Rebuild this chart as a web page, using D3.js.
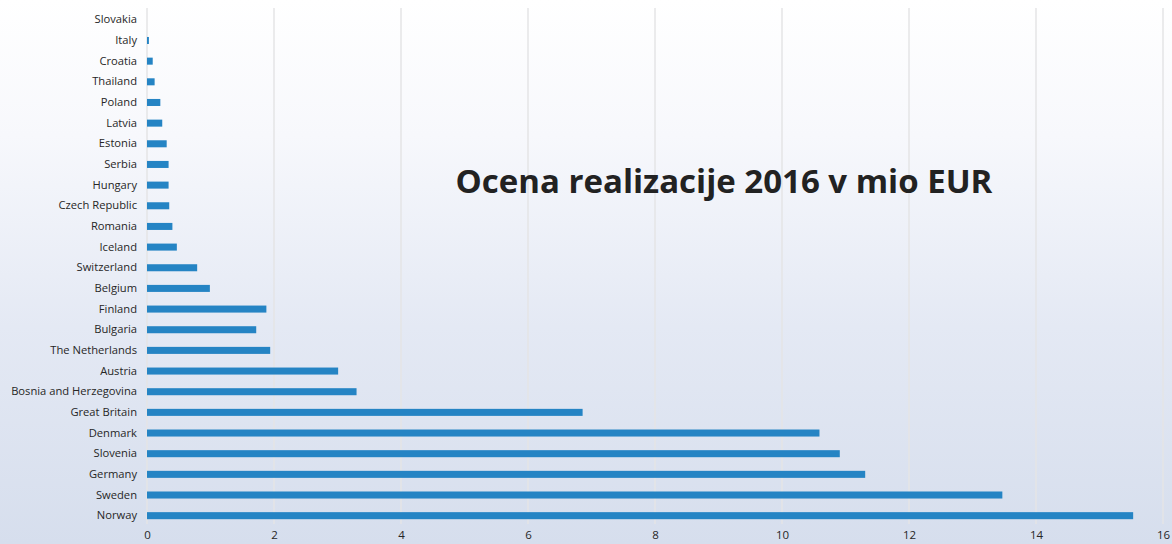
<!DOCTYPE html>
<html>
<head>
<meta charset="utf-8">
<script src="https://cdn.jsdelivr.net/npm/d3@7"></script>
<style>
  html, body { margin: 0; padding: 0; }
  body { width: 1172px; height: 544px; overflow: hidden; }
  text { font-family: "Open Sans", "Noto Sans", sans-serif; }
</style>
</head>
<body>
<script>
// kategorije (od zgoraj navzdol) in vrednosti v mio EUR
const countries = ["Slovakia", "Italy", "Croatia", "Thailand", "Poland", "Latvia", "Estonia", "Serbia",
  "Hungary", "Czech Republic", "Romania", "Iceland", "Switzerland", "Belgium", "Finland", "Bulgaria",
  "The Netherlands", "Austria", "Bosnia and Herzegovina", "Great Britain", "Denmark", "Slovenia",
  "Germany", "Sweden", "Norway"];
const values = [0, 0.03, 0.09, 0.12, 0.21, 0.24, 0.31, 0.34,
  0.34, 0.35, 0.40, 0.47, 0.79, 0.99, 1.88, 1.72,
  1.94, 3.01, 3.30, 6.86, 10.59, 10.91,
  11.31, 13.47, 15.53];
const xTicks = [0, 2, 4, 6, 8, 10, 12, 14, 16];
const title = "Ocena realizacije 2016 v mio EUR";

const width = 1172, height = 544;
const margin = {top: 8, right: 9, bottom: 20, left: 147};

const svg = d3.select("body").append("svg").attr("width", width).attr("height", height);

// ozadje - svetlo nebo
const defs = svg.append("defs");
const grad = defs.append("linearGradient").attr("id", "bg").attr("x1", 0).attr("y1", 0).attr("x2", 0).attr("y2", 1);
grad.append("stop").attr("offset", "0%").attr("stop-color", "#ffffff");
grad.append("stop").attr("offset", "25%").attr("stop-color", "#f7f8fc");
grad.append("stop").attr("offset", "60%").attr("stop-color", "#e4e9f4");
grad.append("stop").attr("offset", "100%").attr("stop-color", "#d6deed");
svg.append("rect").attr("width", width).attr("height", height).attr("fill", "url(#bg)");

const x = d3.scaleLinear().domain([0, 16]).range([margin.left, width - margin.right]);
const y = d3.scaleBand().domain(countries).range([margin.top + 1.5, height - margin.bottom + 2])
  .paddingInner(0.66).paddingOuter(0.33);

// mreža
svg.append("g").attr("class", "grid")
  .selectAll("line").data(xTicks).enter().append("line")
  .attr("x1", d => x(d)).attr("x2", d => x(d))
  .attr("y1", margin.top).attr("y2", height - margin.bottom)
  .attr("stroke", "#e4e4e6").attr("stroke-width", 1.5);

// stolpci
svg.append("g").selectAll("rect").data(countries).enter().append("rect")
  .attr("x", x(0))
  .attr("y", d => y(d))
  .attr("width", (d, i) => x(values[i]) - x(0))
  .attr("height", y.bandwidth())
  .attr("fill", "#2584c4");

// os y
const yAxis = svg.append("g").attr("transform", "translate(" + (margin.left - 10) + ",0)")
  .call(d3.axisLeft(y).tickSize(0).tickPadding(0));
yAxis.select(".domain").remove();
yAxis.selectAll("text").attr("font-size", 11.2).attr("fill", "#262626")
  .style("font-family", '"Open Sans", sans-serif');

// os x
const xAxis = svg.append("g").attr("transform", "translate(0," + (height - margin.bottom) + ")")
  .call(d3.axisBottom(x).tickValues(xTicks).tickSize(0).tickPadding(7));
xAxis.select(".domain").remove();
xAxis.selectAll("text").attr("font-size", 11.5).attr("fill", "#262626")
  .style("font-family", '"Open Sans", sans-serif');

// naslov
svg.append("text").attr("x", 724).attr("y", 193).attr("text-anchor", "middle")
  .attr("font-size", 33).attr("font-weight", "bold").attr("fill", "#222")
  .text(title);
</script>
</body>
</html>
